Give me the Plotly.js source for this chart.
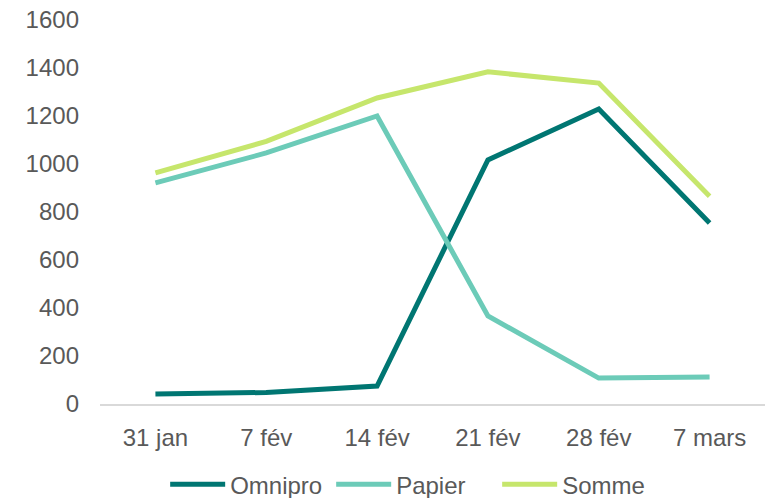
<!DOCTYPE html>
<html>
<head>
<meta charset="utf-8">
<script src="https://cdn.plot.ly/plotly-3.0.1.min.js"></script>
<style>html,body{margin:0;padding:0;background:#fff;}#chart{width:765px;height:498px;}</style>
</head>
<body>
<div id="chart"></div>
<script>
var categories = ["31 jan", "7 fév", "14 fév", "21 fév", "28 fév", "7 mars"];
var omnipro = [42, 48, 75, 1017, 1229, 754];
var papier = [921, 1046, 1200, 367, 108, 112];
var somme = [963, 1094, 1275, 1384, 1337, 866];
var yTicks = [0, 200, 400, 600, 800, 1000, 1200, 1400, 1600];

function tr(name, y, color) {
  return {x: categories, y: y, name: name, type: 'scatter', mode: 'lines',
          line: {color: color, width: 5}};
}
var data = [
  tr('Omnipro', omnipro, '#007672'),
  tr('Papier', papier, '#6ccbb8'),
  tr('Somme', somme, '#c6e66c')
];
var font = {family: '"Liberation Sans", Arial, sans-serif', size: 24, color: '#595959'};
var layout = {
  width: 765, height: 498,
  margin: {l: 100, r: 0, t: 20, b: 94, autoexpand: false},
  paper_bgcolor: '#fff', plot_bgcolor: '#fff',
  font: font,
  showlegend: true,
  legend: {orientation: 'h', x: 0.098, xanchor: 'left', y: -0.21, yanchor: 'middle',
           font: font, traceorder: 'normal', itemwidth: 55, entrywidth: 96},
  xaxis: {type: 'category', range: [-0.5, 5.5], showgrid: false, zeroline: false, showline: true,
          linecolor: '#d9d9d9', linewidth: 1.5, ticks: '', ticklabelstandoff: 12,
          tickfont: font, fixedrange: true, automargin: false},
  yaxis: {range: [0, 1600], tickvals: yTicks, ticktext: yTicks.map(String),
          showgrid: false, zeroline: false, showline: false, ticks: '',
          ticklabelstandoff: 20, tickfont: font, fixedrange: true, automargin: false}
};
Plotly.newPlot('chart', data, layout, {displayModeBar: false, staticPlot: true});
</script>
</body>
</html>
